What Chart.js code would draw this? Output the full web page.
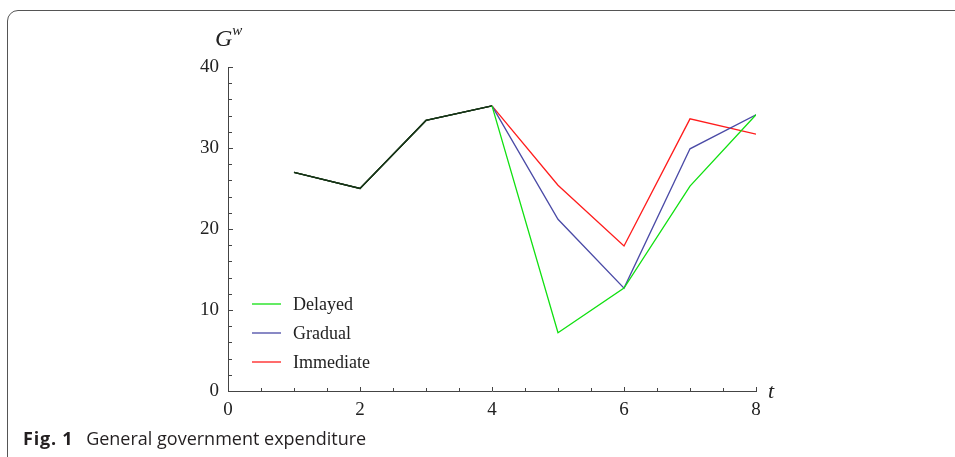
<!DOCTYPE html>
<html>
<head>
<meta charset="utf-8">
<script src="https://cdn.jsdelivr.net/npm/chart.js@4"></script>
<style>
  html, body { margin: 0; padding: 0; background: #fff; }
  body { width: 955px; height: 457px; overflow: hidden; position: relative; }
  #frame {
    position: absolute; left: 7px; top: 10px; width: 1000px; height: 520px;
    border: 1.5px solid #555; border-radius: 11px;
  }
  #wrap { position: absolute; left: 0; top: 0; width: 955px; height: 457px; }
  .axlabel { position: absolute; font-family: "Liberation Serif", "DejaVu Serif", serif; font-style: italic; color: #222; }
  #ylab { left: 215px; top: 24px; font-size: 24px; }
  #ylab sup { font-size: 15px; position: relative; top: -2px; }
  #xlab { left: 768px; top: 378px; font-size: 22px; }
  #caption {
    position: absolute; left: 23px; top: 426px; white-space: nowrap;
    font-family: "Open Sans", "Noto Sans", sans-serif; font-size: 18px; color: #231f20;
  }
  #caption b { letter-spacing: 0.8px; margin-right: 8px; }
</style>
</head>
<body>
<div id="frame"></div>
<div id="wrap"><canvas id="chart" width="955" height="457"></canvas></div>
<div class="axlabel" id="ylab">G<sup>w</sup></div>
<div class="axlabel" id="xlab">t</div>
<div id="caption"><b>Fig. 1</b> General government expenditure</div>

<script>
const periods = [1, 2, 3, 4, 5, 6, 7, 8];
const delayed = [27.0, 25.0, 33.4, 35.2, 7.2, 12.7, 25.3, 34.1];
const gradual = [27.0, 25.0, 33.4, 35.2, 21.2, 12.7, 29.9, 34.1];
const immediate = [27.0, 25.0, 33.4, 35.2, 25.4, 17.9, 33.6, 31.7];
const xTickLabels = [0, 2, 4, 6, 8];
const yTickLabels = [0, 10, 20, 30, 40];

const serif = '"Liberation Serif", "DejaVu Serif", serif';
const commonColor = '#173517';

function toPoints(values) {
    return periods.map((t, i) => ({ x: t, y: values[i] }));
}

function makeDataset(label, values, color) {
    return {
        label: label,
        data: toPoints(values),
        borderColor: color,
        borderWidth: 1.3,
        pointRadius: 0,
        tension: 0,
        fill: false,
        segment: {
            borderColor: ctx => ctx.p1.parsed.x <= 4 ? commonColor : color
        }
    };
}

// small ticks pointing into the plot, like the original
const innerTicks = {
    id: 'innerTicks',
    afterDraw(chart) {
        const { ctx, scales: { x, y } } = chart;
        ctx.save();
        ctx.strokeStyle = '#444';
        ctx.lineWidth = 1;
        ctx.beginPath();
        for (let v = 0; v <= 8; v += 0.5) {
            const px = Math.round(x.getPixelForValue(v)) + 0.5;
            const len = v % 2 === 0 ? 4 : 3;
            ctx.moveTo(px, y.bottom);
            ctx.lineTo(px, y.bottom - len);
        }
        for (let v = 0; v <= 40; v += 2) {
            const py = Math.round(y.getPixelForValue(v)) + 0.5;
            const len = v % 10 === 0 ? 5 : 4;
            ctx.moveTo(x.left, py);
            ctx.lineTo(x.left + len, py);
        }
        ctx.stroke();
        ctx.restore();
    }
};

// legend sitting inside the plot area, lower left
const insideLegend = {
    id: 'insideLegend',
    afterDraw(chart, args, opts) {
        const ctx = chart.ctx;
        ctx.save();
        ctx.font = '18px ' + serif;
        ctx.textBaseline = 'middle';
        chart.data.datasets.forEach((ds, i) => {
            const yy = opts.top + i * opts.gap;
            ctx.strokeStyle = ds.borderColor;
            ctx.lineWidth = 1.3;
            ctx.beginPath();
            ctx.moveTo(opts.left, yy);
            ctx.lineTo(opts.left + 29, yy);
            ctx.stroke();
            ctx.fillStyle = '#222';
            ctx.fillText(ds.label, opts.left + 41, yy + 1);
        });
        ctx.restore();
    }
};

new Chart(document.getElementById('chart').getContext('2d'), {
    type: 'line',
    data: {
        datasets: [
            makeDataset('Delayed', delayed, '#10e010'),
            makeDataset('Gradual', gradual, '#4a4aa6'),
            makeDataset('Immediate', immediate, '#ff1c1c')
        ]
    },
    options: {
        responsive: false,
        animation: false,
        layout: { padding: { top: 67, right: 199, left: 0, bottom: 0 } },
        plugins: {
            legend: { display: false },
            tooltip: { enabled: false },
            insideLegend: { left: 252, top: 304, gap: 29 }
        },
        scales: {
            x: {
                type: 'linear',
                min: 0,
                max: 8,
                afterFit: s => { s.height = 66; },
                afterBuildTicks: s => { s.ticks = xTickLabels.map(v => ({ value: v })); },
                grid: { display: false, drawTicks: false },
                border: { display: true, color: '#444', width: 1 },
                ticks: { font: { family: serif, size: 19 }, color: '#222', padding: 8, maxRotation: 0 }
            },
            y: {
                min: 0,
                max: 40,
                afterFit: s => { s.width = 228; },
                afterBuildTicks: s => { s.ticks = yTickLabels.map(v => ({ value: v })); },
                grid: { display: false, drawTicks: false },
                border: { display: true, color: '#444', width: 1 },
                ticks: { font: { family: serif, size: 19 }, color: '#222', padding: 9 }
            }
        }
    },
    plugins: [innerTicks, insideLegend]
});
</script>
</body>
</html>
